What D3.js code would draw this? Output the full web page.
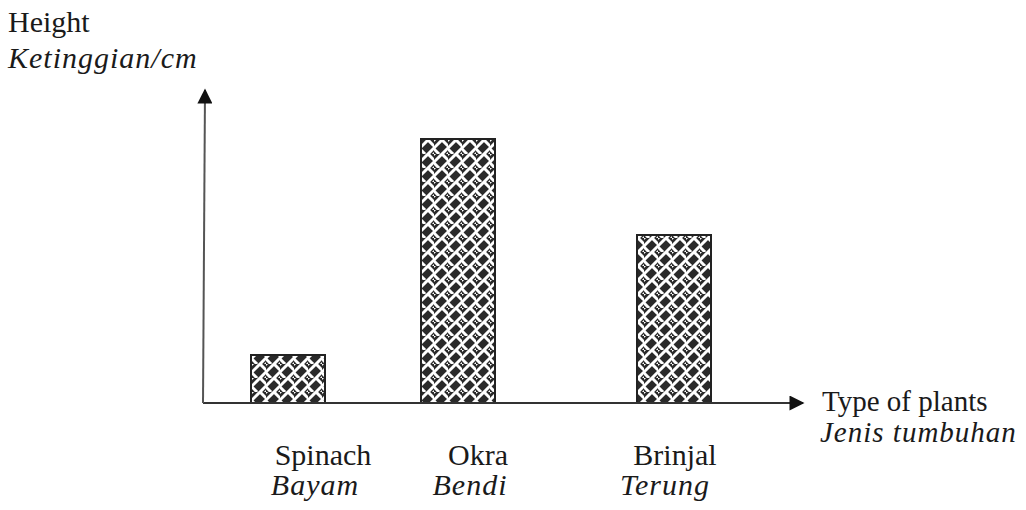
<!DOCTYPE html>
<meta charset="utf-8">
<title>Height of plants</title>
<style>
  body { margin: 0; background: #fff; }
  svg text { font-family: 'Liberation Serif', 'Times New Roman', serif; fill: #1a1a1a; }
  .it { font-style: italic; letter-spacing: 1px; }
</style>
<body>
<div id="chart"></div>
<script src="https://d3js.org/d3.v7.min.js"></script>
<script>
// data (arbitrary height units, no scale printed)
var plants = ["Spinach", "Okra", "Brinjal"];
var plantsMalay = ["Bayam", "Bendi", "Terung"];
var heights = [16, 88, 56];
var axisTitleY = ["Height", "Ketinggian/cm"];
var axisTitleX = ["Type of plants", "Jenis tumbuhan"];

var width = 1026, height = 510;
var originX = 203, originY = 403;
var barW = 74;

var svg = d3.select("#chart").append("svg")
  .attr("width", width)
  .attr("height", height);

// weave (basket) pattern: white strokes on dark ground
var defs = svg.append("defs");
var pat = defs.append("pattern")
  .attr("id", "weave")
  .attr("patternUnits", "userSpaceOnUse")
  .attr("width", 14).attr("height", 14);
pat.append("rect").attr("width", 14).attr("height", 14).attr("fill", "#2a2a2a");
pat.append("path")
  .attr("d", "M1,7 L7,1 M9,1 L13,5 M8,14 L14,8 M0,9 L4,13 M-1,1 L1,-1 M13,15 L15,13")
  .attr("stroke", "#fff").attr("stroke-width", 3).attr("stroke-linecap", "square").attr("fill", "none");

var arrow = defs.append("marker")
  .attr("id", "arrow")
  .attr("viewBox", "0 0 10 10")
  .attr("refX", 9).attr("refY", 5)
  .attr("markerUnits", "userSpaceOnUse")
  .attr("markerWidth", 17).attr("markerHeight", 15)
  .attr("orient", "auto");
arrow.append("path").attr("d", "M0,0 L10,5 L0,10 Z").attr("fill", "#111");

// scales
var y = d3.scaleLinear().domain([0, 100]).range([originY, 103]);
var x = d3.scaleOrdinal().domain(plants).range([251, 421, 637]);

// bars
svg.selectAll(".bar")
  .data(plants)
  .enter().append("rect")
  .attr("class", "bar")
  .attr("x", function (d) { return x(d); })
  .attr("y", function (d, i) { return y(heights[i]); })
  .attr("width", barW)
  .attr("height", function (d, i) { return originY - y(heights[i]); })
  .attr("fill", "url(#weave)")
  .attr("stroke", "#222")
  .attr("stroke-width", 2);

// axes with arrows
svg.append("line")
  .attr("x1", originX).attr("y1", originY)
  .attr("x2", 803).attr("y2", originY)
  .attr("stroke", "#333").attr("stroke-width", 2)
  .attr("marker-end", "url(#arrow)");
svg.append("line")
  .attr("x1", originX).attr("y1", originY)
  .attr("x2", originX + 2).attr("y2", 90)
  .attr("stroke", "#555").attr("stroke-width", 2)
  .attr("marker-end", "url(#arrow)");

// category labels (English + Malay)
var labelX = [323, 478, 675];
var labelXm = [315, 470, 665];
svg.selectAll(".lab")
  .data(plants)
  .enter().append("text")
  .attr("class", "lab")
  .attr("x", function (d, i) { return labelX[i]; })
  .attr("y", 465)
  .attr("text-anchor", "middle")
  .attr("font-size", 30)
  .text(function (d) { return d; });
svg.selectAll(".labm")
  .data(plantsMalay)
  .enter().append("text")
  .attr("class", "labm it")
  .attr("x", function (d, i) { return labelXm[i]; })
  .attr("y", 495)
  .attr("text-anchor", "middle")
  .attr("font-size", 30)
  .text(function (d) { return d; });

// axis titles
svg.append("text").attr("x", 8).attr("y", 32).attr("font-size", 30).text(axisTitleY[0]);
svg.append("text").attr("class", "it").attr("x", 8).attr("y", 68).attr("font-size", 30).text(axisTitleY[1]);
svg.append("text").attr("x", 822).attr("y", 411).attr("font-size", 29).text(axisTitleX[0]);
svg.append("text").attr("class", "it").attr("x", 820).attr("y", 442).attr("font-size", 29).text(axisTitleX[1]);
</script>
</body>
